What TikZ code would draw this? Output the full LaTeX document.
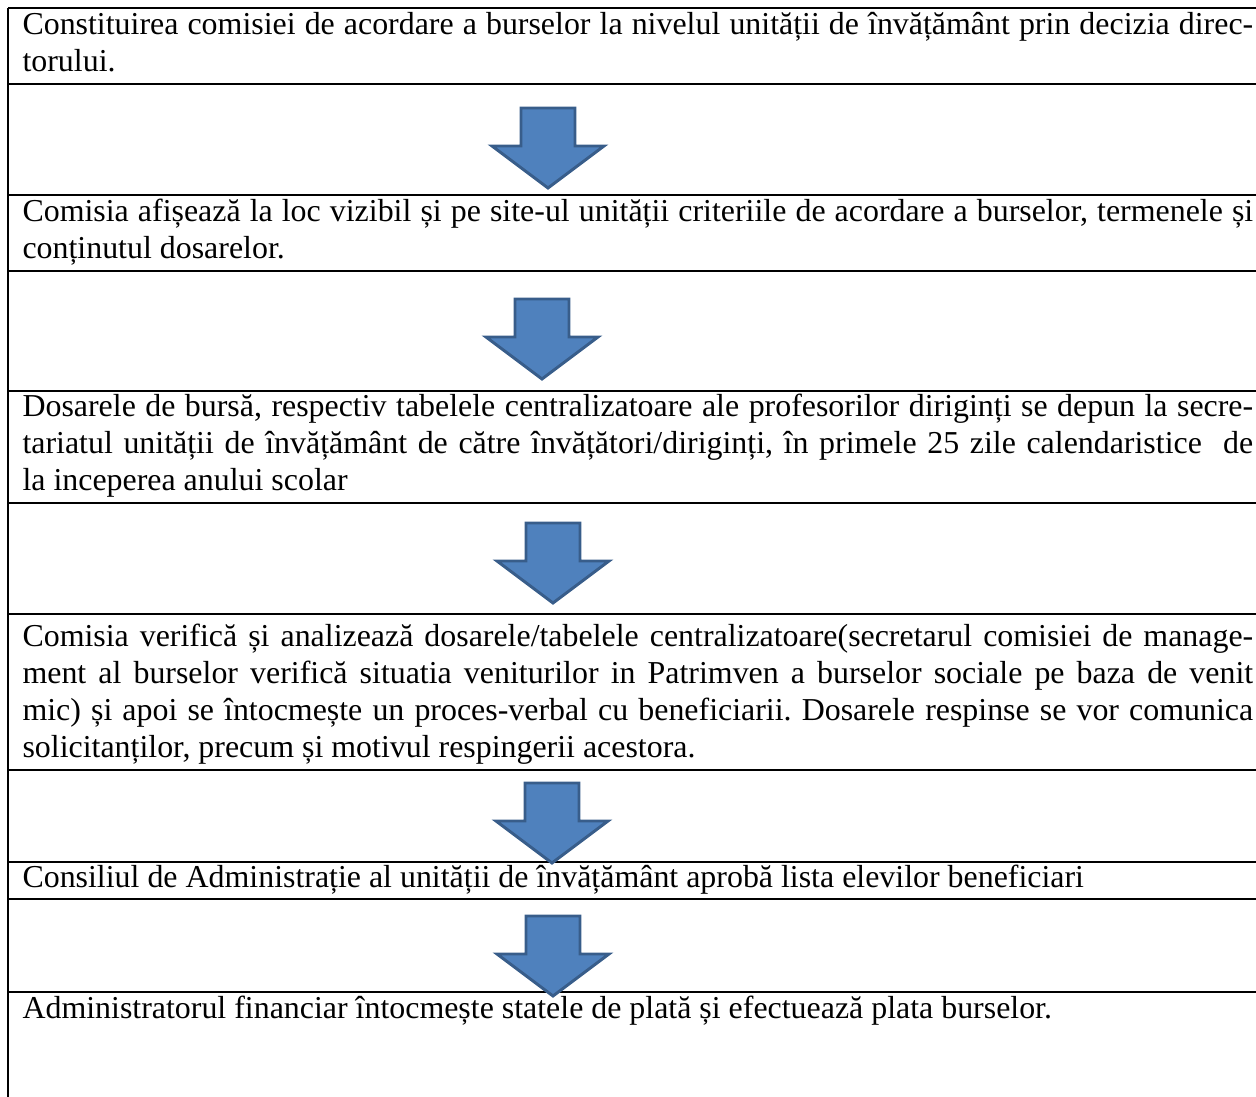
\documentclass[tikz,border=0pt]{standalone}
\usepackage{fontspec}
\setmainfont{Liberation Serif}
\usepackage{tikz}
\usetikzlibrary{calc}
\definecolor{arrowblue}{HTML}{4F81BD}
\definecolor{arrowedge}{HTML}{385D8A}
\newcommand{\cellfont}{\fontsize{11.9}{13.8}\selectfont\frenchspacing
  \hyphenpenalty=10000\relax\exhyphenpenalty=10000\relax\tolerance=9999\relax}
\tikzset{
  celltext/.style={anchor=base west, text width=459pt, align=justify, inner sep=0pt,
    font=\cellfont},
  rowline/.style={line width=0.8pt},
  blockarrow/.style={fill=arrowblue, draw=arrowedge, line width=1.1pt, line join=miter}
}

\begin{document}
\begin{tikzpicture}[x=0.373pt, y=-0.373pt]
           \useasboundingbox (0,0) rectangle (1256,1097);

           % table lines
           \draw[rowline] (8,1097) -- (8,8);
           \foreach \ly in {8,84,195,271,391,503,614,770,862,899,992}
             \draw[rowline] (8,\ly) -- (1256,\ly);

           %1
           \node[celltext] (r1) at (22,35) {Constituirea comisiei de acordare a burselor la nivelul unității de învățământ prin decizia direc-\linebreak torului.};

           %2
           \node[celltext] (r2) at (22,222) {Comisia afișează la loc vizibil și pe site-ul unității criteriile de acordare a burselor, termenele și\linebreak conținutul dosarelor.};

           %3
           \node[celltext] (r3) at (22,417) {Dosarele de bursă, respectiv tabelele centralizatoare ale profesorilor diriginți se depun la secre-\linebreak tariatul unității de învățământ de către învățători/diriginți, în primele 25 zile calendaristice \ de\linebreak la inceperea anului scolar};

           %4
           \node[celltext] (r4) at (22,647) {Comisia verifică și analizează dosarele/tabelele centralizatoare(secretarul comisiei de manage-\linebreak ment al burselor verifică situatia veniturilor in Patrimven a burselor sociale pe baza de venit\linebreak mic) și apoi se întocmește un proces-verbal cu beneficiarii. Dosarele respinse se vor comunica\linebreak solicitanților, precum și motivul respingerii acestora.};

           %5
           \node[celltext] (r5) at (22,887) {Consiliul de Administrație al unității de învățământ aprobă lista elevilor beneficiari};

           %6
           \node[celltext] (r6) at (22,1018) {Administratorul financiar întocmește statele de plată și efectuează plata burselor.};

           % arrows
           \foreach \cx/\ty in {548/108, 542/299, 553/523, 552/783, 553/916}
             \draw[blockarrow] (\cx-27,\ty) -- (\cx+27,\ty) -- (\cx+27,\ty+38) -- (\cx+56,\ty+38)
               -- (\cx,\ty+80) -- (\cx-56,\ty+38) -- (\cx-27,\ty+38) -- cycle;
        \end{tikzpicture}
\end{document}
